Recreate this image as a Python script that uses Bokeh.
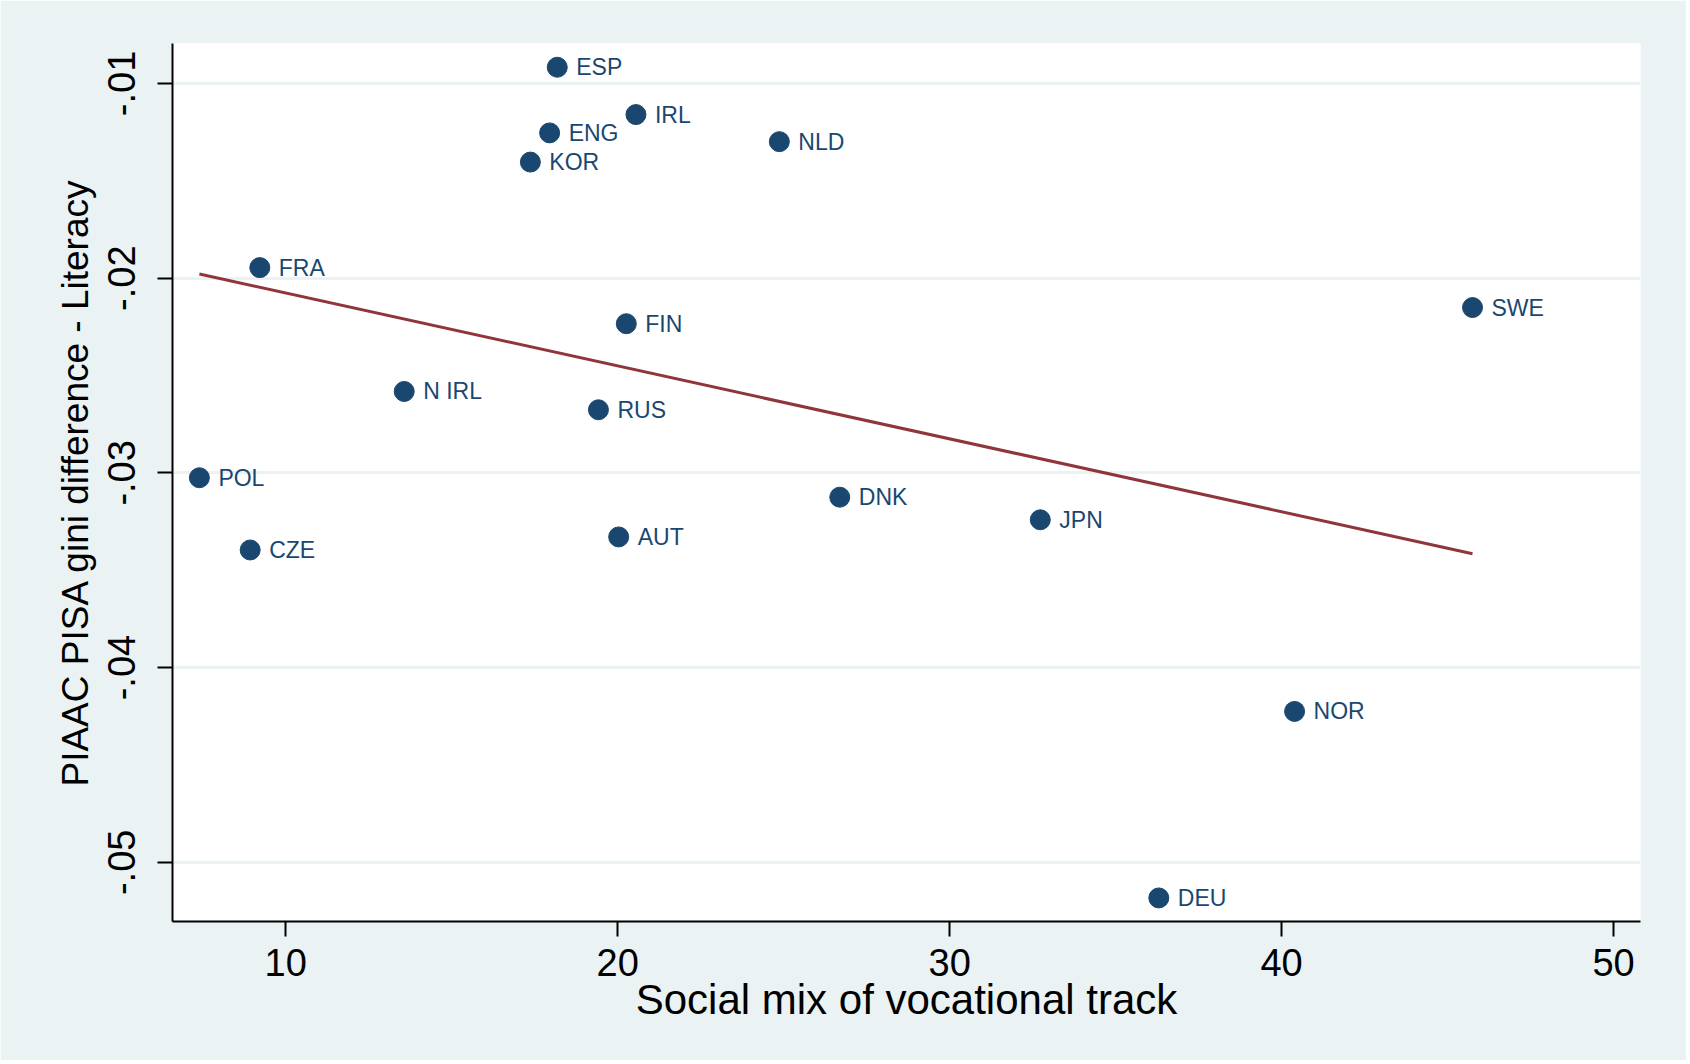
import numpy as np
from bokeh.plotting import figure
from bokeh.models import ColumnDataSource, FixedTicker, CustomJSTickFormatter, Range1d
from bokeh.core.properties import value
from bokeh.embed import file_html
from bokeh.resources import INLINE

countries = ["ESP", "IRL", "ENG", "NLD", "KOR", "FRA", "SWE", "FIN", "N IRL",
             "RUS", "POL", "DNK", "JPN", "AUT", "CZE", "NOR", "DEU"]
social_mix = [18.18, 20.55, 17.95, 24.87, 17.37, 9.22, 45.75, 20.26, 13.57,
              19.42, 7.40, 26.69, 32.73, 20.03, 8.93, 40.39, 36.30]
gini_diff = [-0.00917, -0.0116, -0.01254, -0.01299, -0.01404, -0.01946, -0.02151,
             -0.02234, -0.02582, -0.02676, -0.03025, -0.03125, -0.03241, -0.03329,
             -0.03396, -0.04225, -0.05183]
x_ticks = [10, 20, 30, 40, 50]
y_ticks = [-0.05, -0.04, -0.03, -0.02, -0.01]

BG = "#eaf2f3"
NAVY = "#1a476f"
MAROON = "#90353b"
FONT = "Liberation Sans"

p = figure(width=1686, height=1060, output_backend="svg", toolbar_location=None,
           x_range=Range1d(6.59, 50.81), y_range=Range1d(-0.05304, -0.00795),
           min_border_left=172, min_border_right=46, min_border_top=43, min_border_bottom=139)
p.background_fill_color = "white"
p.border_fill_color = BG
p.outline_line_color = None

# fitted line (OLS of the plotted points)
xs = np.array(social_mix)
ys = np.array(gini_diff)
b, a = np.polyfit(xs, ys, 1)
fx = np.array([xs.min(), xs.max()])
p.line(fx, a + b * fx, line_color=MAROON, line_width=3)

src = ColumnDataSource(dict(x=social_mix, y=gini_diff, lab=countries))
p.scatter("x", "y", source=src, size=20, fill_color=NAVY, line_color=NAVY)
p.text("x", "y", text="lab", source=src, x_offset=19, text_baseline="middle",
       text_align="left", text_color=NAVY, text_font=value(FONT), text_font_size="23px")

p.xgrid.grid_line_color = None
p.ygrid.grid_line_color = BG
p.ygrid.grid_line_width = 3
p.ygrid.ticker = FixedTicker(ticks=y_ticks)

p.xaxis.ticker = FixedTicker(ticks=x_ticks)
p.yaxis.ticker = FixedTicker(ticks=y_ticks)
p.yaxis.formatter = CustomJSTickFormatter(code="return tick.toFixed(2).replace('0.', '.');")

for ax in (p.xaxis[0], p.yaxis[0]):
    ax.axis_line_color = "black"
    ax.axis_line_width = 2
    ax.major_tick_line_color = "black"
    ax.major_tick_line_width = 2
    ax.major_tick_out = 15
    ax.major_tick_in = 0
    ax.minor_tick_line_color = None
    ax.major_label_text_font = FONT
    ax.major_label_text_font_size = "38px"
    ax.major_label_text_color = "black"
    ax.axis_label_text_font = FONT
    ax.axis_label_text_font_style = "normal"
    ax.axis_label_text_color = "black"

p.xaxis.axis_label = "Social mix of vocational track"
p.xaxis.axis_label_text_font_size = "42px"
p.xaxis.major_label_standoff = 12
p.xaxis.axis_label_standoff = -3

p.yaxis.axis_label = "PIAAC PISA gini difference - Literacy"
p.yaxis.axis_label_text_font_size = "37px"
p.yaxis.major_label_orientation = "parallel"
p.yaxis.major_label_standoff = 22
p.yaxis.axis_label_standoff = 10

open("out.html", "w").write(file_html(p, INLINE))
